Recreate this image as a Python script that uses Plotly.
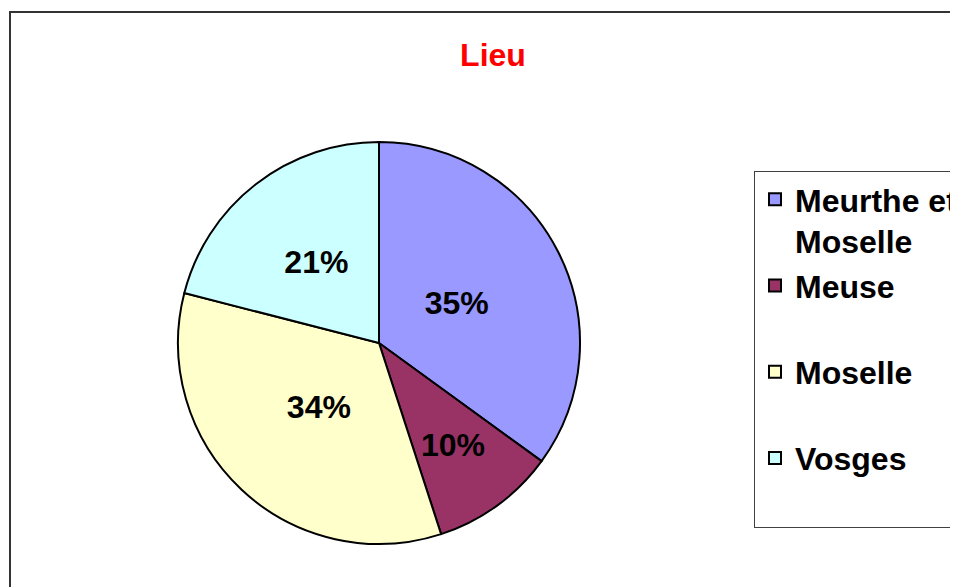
import plotly.graph_objects as go

# Data (share of answers, %)
lieux = ["Meurthe et<br>Moselle", "Meuse<br>&nbsp;", "Moselle<br>&nbsp;", "Vosges<br>&nbsp;"]
valeurs = [35, 10, 34, 21]
couleurs = ["#9999FF", "#993366", "#FFFFCC", "#CCFFFF"]

# the page body adds an 8px margin: positions below are given in window
# pixels and shifted back by that margin
OFF = 8
W, H = 958, 587


def px(x):
    return (x - OFF) / W


def py(y):
    return 1 - (y - OFF) / H


fig = go.Figure()

# slices
fig.add_trace(
    go.Pie(
        labels=lieux,
        values=valeurs,
        sort=False,
        direction="clockwise",
        rotation=0,
        marker=dict(colors=couleurs, line=dict(color="black", width=2)),
        textinfo="none",
        hoverinfo="label+percent",
        domain=dict(x=[px(178), px(580)], y=[py(544), py(142)]),
    )
)

# percentage labels, on a smaller transparent copy so they sit nearer the centre
cx, cy, r = 379, 343, 201 * 0.82
fig.add_trace(
    go.Pie(
        labels=lieux,
        values=valeurs,
        sort=False,
        direction="clockwise",
        rotation=0,
        showlegend=False,
        hoverinfo="skip",
        marker=dict(colors=["rgba(0,0,0,0)"] * len(valeurs), line=dict(width=0)),
        textinfo="percent",
        textposition="inside",
        insidetextorientation="horizontal",
        textfont=dict(family="Liberation Sans, Arial", size=32, color="black", weight="bold"),
        domain=dict(x=[px(cx - r), px(cx + r)], y=[py(cy + r), py(cy - r)]),
    )
)

fig.update_layout(
    width=W,
    height=H,
    margin=dict(l=0, r=0, t=0, b=0),
    paper_bgcolor="white",
    plot_bgcolor="white",
    font=dict(family="Liberation Sans, Arial", color="black"),
    title=dict(
        text="<b>Lieu</b>",
        x=px(493),
        xanchor="center",
        y=py(55),
        yanchor="middle",
        font=dict(size=32, color="red"),
    ),
    showlegend=True,
    legend=dict(
        x=px(754),
        xanchor="left",
        y=py(171),
        yanchor="top",
        valign="top",
        bgcolor="white",
        bordercolor="#404040",
        borderwidth=1,
        entrywidth=160,
        font=dict(size=32, weight="bold", color="black"),
    ),
    shapes=[
        # outer chart frame
        dict(type="rect", xref="paper", yref="paper",
             x0=px(10), x1=1.05, y0=-0.05, y1=py(12),
             line=dict(color="#333333", width=2), fillcolor="rgba(0,0,0,0)", layer="below"),
    ],
)

fig.write_html("out.html")
